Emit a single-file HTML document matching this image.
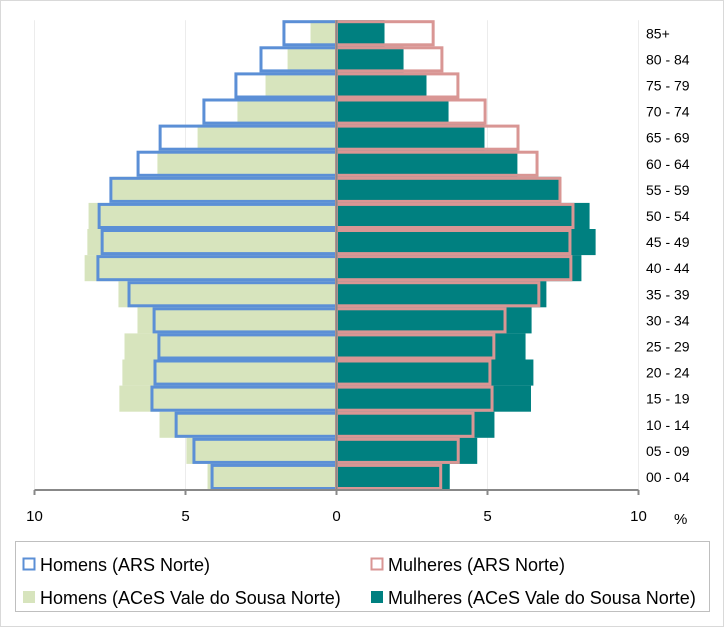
<!DOCTYPE html>
<html><head><meta charset="utf-8"><style>
body{margin:0;background:#fff;font-family:"Liberation Sans",Arial,sans-serif}
svg{display:block}
</style></head><body>
<svg id="c" width="724" height="627" font-family="Liberation Sans, Arial, sans-serif">
<rect x="0.5" y="0.5" width="723" height="626" fill="#fff" stroke="#d9d9d9"/>
<g id="grid"></g><g id="bars"></g><g id="axes"></g>
<rect x="15.5" y="541.5" width="694" height="70" fill="none" stroke="#bfbfbf"/>
<g><rect x="23.5" y="558.5" width="11" height="11" fill="#fff" stroke="#5b8fd6" stroke-width="2"/><text x="40" y="571" font-size="18" fill="#000">Homens (ARS Norte)</text></g>
<g><rect x="371.5" y="558.5" width="11" height="11" fill="#fff" stroke="#d99694" stroke-width="2"/><text x="388" y="571" font-size="18" fill="#000">Mulheres (ARS Norte)</text></g>
<g><rect x="23" y="591" width="12" height="12" fill="#d7e4bd"/><text x="40" y="604" font-size="18" fill="#000">Homens (ACeS Vale do Sousa Norte)</text></g>
<g><rect x="371" y="591" width="12" height="12" fill="#008080"/><text x="388" y="604" font-size="18" fill="#000">Mulheres (ACeS Vale do Sousa Norte)</text></g>
</svg>
<script>
const categories=["85+","80 - 84","75 - 79","70 - 74","65 - 69","60 - 64","55 - 59","50 - 54","45 - 49","40 - 44","35 - 39","30 - 34","25 - 29","20 - 24","15 - 19","10 - 14","05 - 09","00 - 04"];
const homensARS=[1.79,2.55,3.38,4.44,5.89,6.62,7.52,7.91,7.81,7.95,6.92,6.09,5.93,6.06,6.16,5.36,4.77,4.17];
const homensACeS=[0.86,1.62,2.35,3.28,4.6,5.93,7.42,8.21,8.25,8.34,7.22,6.59,7.02,7.09,7.19,5.86,4.97,4.27];
const mulheresARS=[3.25,3.54,4.07,4.97,6.06,6.69,7.45,7.88,7.78,7.81,6.75,5.63,5.26,5.13,5.2,4.57,4.08,3.5];
const mulheresACeS=[1.59,2.22,2.98,3.71,4.9,5.99,7.42,8.38,8.58,8.11,6.95,6.46,6.26,6.52,6.44,5.23,4.66,3.75];
const xTicks=[-10,-5,0,5,10];
const NS="http://www.w3.org/2000/svg";
const x0=336.5,sc=30.2,yTop=20.2,band=26.1,yBottom=490;
const xs=v=>x0+v*sc, yb=i=>yTop+i*band;
function mk(t,a,p){const e=document.createElementNS(NS,t);for(const k in a)e.setAttribute(k,a[k]);p.appendChild(e);return e;}
const G=document.getElementById('grid'),B=document.getElementById('bars'),A=document.getElementById('axes');
xTicks.forEach(t=>{if(t!==0){const l=mk('line',{x1:xs(t),x2:xs(t),y1:yTop,y2:yBottom,stroke:'#ececec'},G);

}});
categories.forEach((c,i)=>{
 const y=yb(i);
 let r=mk('rect',{x:xs(-homensACeS[i]),y:y,width:homensACeS[i]*sc,height:band,fill:'#d7e4bd'},B);
 
 
 r=mk('rect',{x:x0,y:y,width:mulheresACeS[i]*sc,height:band,fill:'#008080'},B);
 
 
});
categories.forEach((c,i)=>{
 const y=yb(i);
 let r=mk('rect',{x:xs(-homensARS[i])+1.5,y:y+1.5,width:homensARS[i]*sc-1.5,height:band-3,fill:'none',stroke:'#5b8fd6','stroke-width':3},B);
 
 
 r=mk('rect',{x:x0,y:y+1.5,width:mulheresARS[i]*sc-1.5,height:band-3,fill:'none',stroke:'#d99694','stroke-width':3},B);
 
 
 const t=mk('text',{x:646,y:y+band/2+5,'font-size':14,fill:'#000'},A);t.textContent=c;
 
 
});
let l=mk('line',{x1:x0,x2:x0,y1:yTop,y2:yBottom,stroke:'#888','stroke-width':2},A);


l=mk('line',{x1:xs(-10),x2:xs(10),y1:yBottom,y2:yBottom,stroke:'#888','stroke-width':2},A);


xTicks.forEach(t=>{
 const tk=mk('line',{x1:xs(t),x2:xs(t),y1:yBottom,y2:yBottom+5,stroke:'#888','stroke-width':2},A);
 
 
 const tx=mk('text',{x:xs(t),y:521,'font-size':15,'text-anchor':'middle',fill:'#000'},A);tx.textContent=Math.abs(t);
 
 
});
const u=mk('text',{x:674,y:524,'font-size':15,fill:'#000'},A);u.textContent='%';


</script>
</body></html>
